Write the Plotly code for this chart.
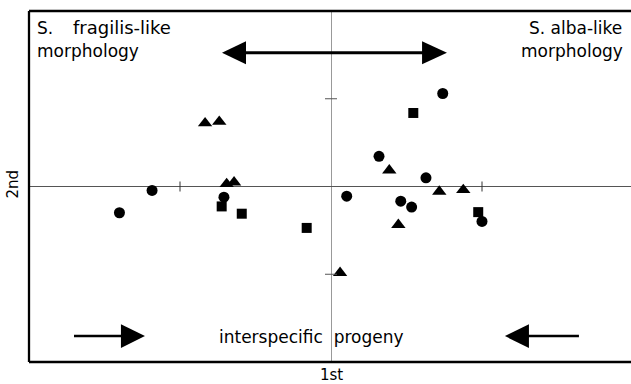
import plotly.graph_objects as go

# ---- data (ordination scores, 1st and 2nd axis) ----
circle_x = [0.740, 0.318, 0.629, 0.104, 0.462, 0.534, 1.000, -0.709, -1.185, -1.401]
circle_y = [1.060, 0.344, 0.099, -0.110, -0.167, -0.235, -0.398, -0.122, -0.045, -0.299]

square_x = [0.545, 0.975, -0.724, -0.591, -0.161]
square_y = [0.838, -0.292, -0.227, -0.310, -0.472]

triangle_x = [0.386, 0.717, 0.876, 0.446, -0.834, -0.740, -0.691, -0.642, 0.060]
triangle_y = [0.185, -0.058, -0.039, -0.437, 0.722, 0.738, 0.029, 0.048, -0.983]

tick_vals = [-1, 1]

W, H = 631, 384
ML, MT, MB, MR = 29, 11, 22, 0
PW, PH = W - ML - MR, H - MT - MB
UX = 151.0  # pixels per unit on x
X0 = -2.0
X1 = X0 + PW / UX


def px(xp):
    return (xp - ML) / PW


def py(yp):
    return (H - MB - yp) / PH


fig = go.Figure()
mk = dict(color="black", line=dict(width=0))
fig.add_trace(go.Scatter(x=circle_x, y=circle_y, mode="markers",
                         marker=dict(symbol="circle", size=11, **mk), name="circle"))
fig.add_trace(go.Scatter(x=square_x, y=square_y, mode="markers",
                         marker=dict(symbol="square", size=10, **mk), name="square"))
fig.add_trace(go.Scatter(x=triangle_x, y=triangle_y, mode="markers",
                         marker=dict(symbol="triangle-up", size=12.5, **mk), name="triangle"))

shapes = []
# frame (left, top, bottom)
for (x0, y0, x1, y1) in [(0, 0, 0, 1), (0, 1, 1, 1), (0, 0, 1, 0)]:
    shapes.append(dict(type="line", xref="paper", yref="paper", x0=x0, y0=y0, x1=x1, y1=y1,
                       line=dict(color="black", width=2.3)))
# ticks crossing the zero lines
for t in tick_vals:
    shapes.append(dict(type="line", xref="x", yref="y", ysizemode="pixel", yanchor=0,
                       x0=t, x1=t, y0=-5, y1=5, line=dict(color="#333", width=1)))
    shapes.append(dict(type="line", yref="y", xref="x", xsizemode="pixel", xanchor=0,
                       y0=t, y1=t, x0=-6, x1=6, line=dict(color="#555", width=1)))

# arrows (data units)
ya, yb = 1.523, -1.705
hh = 0.131
shapes += [
    dict(type="line", xref="x", yref="y", x0=-0.60, x1=0.64, y0=ya, y1=ya,
         line=dict(color="black", width=3)),
    dict(type="path", xref="x", yref="y",
         path=f"M -0.722,{ya} L -0.563,{ya+hh} L -0.563,{ya-hh} Z",
         fillcolor="black", line=dict(width=0)),
    dict(type="path", xref="x", yref="y",
         path=f"M 0.768,{ya} L 0.603,{ya+hh} L 0.603,{ya-hh} Z",
         fillcolor="black", line=dict(width=0)),
    dict(type="line", xref="x", yref="y", x0=-1.702, x1=-1.37, y0=yb, y1=yb,
         line=dict(color="black", width=2.5)),
    dict(type="path", xref="x", yref="y",
         path=f"M -1.232,{yb} L -1.391,{yb+0.136} L -1.391,{yb-0.136} Z",
         fillcolor="black", line=dict(width=0)),
    dict(type="line", xref="x", yref="y", x0=1.29, x1=1.642, y0=yb, y1=yb,
         line=dict(color="black", width=2.5)),
    dict(type="path", xref="x", yref="y",
         path=f"M 1.152,{yb} L 1.311,{yb+0.136} L 1.311,{yb-0.136} Z",
         fillcolor="black", line=dict(width=0)),
]

FONT = "DejaVu Sans"
ann = []


def label(text, xp, yp, xanchor, size=17, angle=0, pad=1):
    ann.append(dict(text=text, x=px(xp), y=py(yp), xref="paper", yref="paper",
                    xanchor=xanchor, yanchor="middle", showarrow=False, textangle=angle,
                    borderpad=pad,
                    font=dict(family=FONT, size=size, color="black")))


label("S.", 35, 27.7, "left")
label("fragilis-like", 71, 27.2, "left", size=18)
label("morphology", 35, 51, "left")
label("S. alba-like", 624, 27.7, "right")
label("morphology", 625, 51, "right")
label("interspecific\u00a0 progeny", 311, 337, "center")
label("1st", 331, 374.5, "center", size=15, pad=0)
label("2nd", 12.5, 184, "center", size=15, angle=-90)

fig.update_layout(
    width=W, height=H,
    margin=dict(l=ML, r=MR, t=MT, b=MB, pad=0),
    paper_bgcolor="white", plot_bgcolor="white",
    showlegend=False,
    shapes=shapes, annotations=ann,
    xaxis=dict(range=[X0, X1], showgrid=False, showticklabels=False, ticks="",
               zeroline=True, zerolinecolor="#999", zerolinewidth=1, fixedrange=True),
    yaxis=dict(range=[-2, 2], showgrid=False, showticklabels=False, ticks="",
               zeroline=True, zerolinecolor="#555", zerolinewidth=1, fixedrange=True),
)

fig.write_html(
    "out.html",
    config={"displayModeBar": False},
    post_script="document.body.style.margin='0';document.body.style.padding='0';"
                "document.body.style.overflow='hidden';",
)
